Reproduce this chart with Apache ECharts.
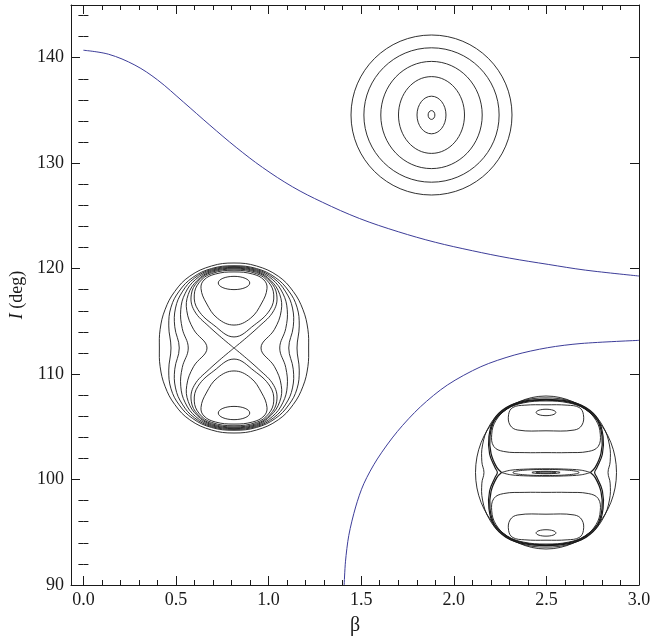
<!DOCTYPE html>
<html>
<head>
<meta charset="utf-8">
<script src="https://cdn.jsdelivr.net/npm/echarts@6/dist/echarts.min.js"></script>
<style>
  html, body { margin: 0; padding: 0; background: #fff; }
  #chart { width: 651px; height: 639px; }
</style>
</head>
<body>
<div id="chart"></div>
<script>
// blue curves
const betaUpper = [0, 0.136, 0.278, 0.40, 0.54, 0.683, 0.825, 0.967, 1.13, 1.29, 1.49, 1.70, 1.90, 2.10, 2.30, 2.51, 2.71, 3.0];
const incUpper = [140.71, 140.33, 139.3, 137.9, 135.8, 133.6, 131.5, 129.6, 127.75, 126.3, 124.76, 123.5, 122.5, 121.7, 121.0, 120.4, 119.86, 119.3];
const betaLower = [1.408, 1.415, 1.433, 1.47, 1.514, 1.587, 1.695, 1.82, 1.965, 2.146, 2.326, 2.506, 2.687, 3.0];
const incLower = [90, 92.2, 94.7, 97.4, 99.6, 101.95, 104.55, 106.9, 108.96, 110.7, 111.8, 112.5, 112.9, 113.2];

// ticks
const xMajorTicks = [0, 0.5, 1, 1.5, 2, 2.5, 3];
const xMinorTicks = [0.1, 0.2, 0.3, 0.4, 0.6, 0.7, 0.8, 0.9, 1.1, 1.2, 1.3, 1.4, 1.6, 1.7, 1.8, 1.9,
  2.1, 2.2, 2.3, 2.4, 2.6, 2.7, 2.8, 2.9];
const yMajorTicks = [90, 100, 110, 120, 130, 140];
const yMinorTicks = [92, 94, 96, 98, 102, 104, 106, 108, 112, 114, 116, 118, 122, 124, 126, 128,
  132, 134, 136, 138, 142, 144];

// inset near beta 1.9: nested ovals [rx, ry], unit = outer radius
const ringRadii = [[1, 1], [0.84, 0.84], [0.63, 0.67], [0.41, 0.48], [0.18, 0.235], [0.042, 0.055]];

// inset near beta 0.8 (quarters: top centre -> left middle; halves: top -> bottom, left side)
const leftOuterQ = [[0, 1], [-0.3, 0.965], [-0.59, 0.845], [-0.79, 0.665], [-0.92, 0.45], [-0.985, 0.22], [-0.995, 0]];
const leftHourglassQ = [
  [[0, 0.968], [-0.3, 0.935], [-0.55, 0.83], [-0.73, 0.67], [-0.84, 0.48], [-0.87, 0.26], [-0.84, 0]],
  [[0, 0.958], [-0.3, 0.924], [-0.53, 0.82], [-0.69, 0.66], [-0.78, 0.47], [-0.79, 0.25], [-0.73, 0]],
  [[0, 0.948], [-0.3, 0.913], [-0.51, 0.808], [-0.65, 0.645], [-0.71, 0.45], [-0.69, 0.23], [-0.61, 0]],
  [[0, 0.938], [-0.3, 0.902], [-0.49, 0.795], [-0.61, 0.63], [-0.63, 0.44], [-0.54, 0.22], [-0.36, 0]]
];
const leftSeparatrixQ = [[0, 0.928], [-0.3, 0.89], [-0.48, 0.785], [-0.57, 0.625], [-0.53, 0.44], [-0.33, 0.25], [0, 0]];
const leftLobeHalves = [
  [[0, 0.915], [-0.3, 0.875], [-0.46, 0.775], [-0.53, 0.625], [-0.48, 0.45], [-0.27, 0.27], [0, 0.13]],
  [[0, 0.895], [-0.25, 0.87], [-0.4, 0.8], [-0.44, 0.7], [-0.37, 0.53], [-0.22, 0.35], [0, 0.27]]
];
const leftCores = [[0, 0.765, 0.21, 0.078], [0, -0.765, 0.21, 0.078]];

// inset near beta 2.5
const rightOuter = [0, 0, 1, 1];
const rightRingQ = [
  [[0, 0.975], [-0.36, 0.93], [-0.63, 0.8], [-0.81, 0.6], [-0.9, 0.36], [-0.91, 0.14], [-0.88, 0]],
  [[0, 0.955], [-0.32, 0.93], [-0.57, 0.845], [-0.74, 0.69], [-0.81, 0.47], [-0.8, 0.24], [-0.72, 0.06], [-0.69, 0]]
];
const rightSeparatrixQ = [[0, 0.945], [-0.32, 0.92], [-0.56, 0.835], [-0.73, 0.68], [-0.795, 0.47], [-0.78, 0.25], [-0.7, 0.07], [-0.63, 0]];
const rightInnerLink = [[-0.63, 0], [-0.5, 0.03], [-0.25, 0.045], [0, 0.048], [0.25, 0.045], [0.5, 0.03], [0.63, 0]];
const rightLobeHalves = [
  [[0, 0.935], [-0.32, 0.91], [-0.55, 0.83], [-0.71, 0.68], [-0.77, 0.5], [-0.74, 0.34], [-0.6, 0.275], [-0.3, 0.26], [0, 0.26]],
  [[0, 0.885], [-0.3, 0.88], [-0.47, 0.85], [-0.53, 0.76], [-0.51, 0.62], [-0.4, 0.555], [0, 0.545]]
];
const rightCores = [[0, 0.785, 0.14, 0.042], [0, -0.79, 0.14, 0.042], [0, 0, 0.47, 0.04], [0, 0, 0.2, 0.016], [0, 0, 0.14, 0.008]];

const INK = '#1a1a1a';
const BLUE = '#3d3d99';
const FONT = '"Liberation Serif", "DejaVu Serif", serif';

// symmetric pieces -> full paths
function loop4(q) {
  const n = q.length;
  const ll = q.slice(0, n - 1).reverse().map(p => [p[0], -p[1]]);
  const lr = q.slice(1).map(p => [-p[0], -p[1]]);
  const ur = q.slice(1, n - 1).reverse().map(p => [-p[0], p[1]]);
  return q.concat(ll, lr, ur);
}
function loopLR(half) {
  const n = half.length;
  return half.concat(half.slice(1, n - 1).reverse().map(p => [-p[0], p[1]]));
}
// left piece reversed, then mirrored piece: one open arc over the top
function arcLR(q) {
  return q.slice().reverse().concat(q.slice(1).map(p => [-p[0], p[1]]));
}
const flipV = pts => pts.map(p => [p[0], -p[1]]);

const ell = (e, w) => ({ kind: 'ellipse', cx: e[0], cy: e[1], rx: e[2], ry: e[3], w: w || 1 });
const loop = (pts, w) => ({ kind: 'loop', pts, w: w || 1 });
const open = (pts, w) => ({ kind: 'open', pts, w: w || 1 });

const inset1 = ringRadii.map(r => ell([0, 0, r[0], r[1]]));

const inset2 = [loop(loop4(leftOuterQ))]
  .concat(leftHourglassQ.map(q => loop(loop4(q))))
  .concat([open(arcLR(leftSeparatrixQ)), open(flipV(arcLR(leftSeparatrixQ)))])
  .concat(leftLobeHalves.map(h => loop(loopLR(h))))
  .concat(leftLobeHalves.map(h => loop(flipV(loopLR(h)))))
  .concat(leftCores.map(c => ell(c)));

const inset3 = [ell(rightOuter)]
  .concat(rightRingQ.map((q, i) => loop(loop4(q), i === 1 ? 1.3 : 1)))
  .concat([open(arcLR(rightSeparatrixQ), 1.4), open(flipV(arcLR(rightSeparatrixQ)), 1.4)])
  .concat([open(rightInnerLink), open(flipV(rightInnerLink))])
  .concat(rightLobeHalves.map(h => loop(loopLR(h))))
  .concat(rightLobeHalves.map(h => loop(flipV(loopLR(h)))))
  .concat(rightCores.map(c => ell(c)));

function contourSeries(shapes, idx) {
  return {
    type: 'custom',
    xAxisIndex: idx, yAxisIndex: idx,
    silent: true,
    animation: false,
    data: shapes.map((s, i) => [0, 0, i]),
    encode: { x: 0, y: 1 },
    renderItem: function (params, api) {
      const s = shapes[api.value(2)];
      const style = { fill: 'none', stroke: INK, lineWidth: 0.9 * s.w };
      if (s.kind === 'ellipse') {
        const c = api.coord([s.cx, s.cy]);
        const r = api.size([s.rx, s.ry]);
        return { type: 'ellipse', shape: { cx: c[0], cy: c[1], rx: r[0], ry: r[1] }, style };
      }
      const pts = s.pts.map(p => api.coord(p));
      return {
        type: s.kind === 'loop' ? 'polygon' : 'polyline',
        shape: { points: pts, smooth: 0.4 },
        style
      };
    }
  };
}

const box = { left: 71, right: 12, top: 5, bottom: 54, outerBoundsMode: 'none', containLabel: false };
const xr = { min: -0.067, max: 3 };
const yr = { min: 90, max: 145 };
const unit = { min: -1, max: 1 };

function axis(gridIndex, position, range, extra) {
  return Object.assign({
    type: 'value', gridIndex, position, min: range.min, max: range.max,
    splitLine: { show: false },
    axisLine: { show: false },
    axisTick: { show: false },
    axisLabel: { show: false }
  }, extra);
}
const lineOn = { show: true, onZero: false, lineStyle: { color: INK, width: 1 } };
const ticks = (vals, len) => ({ show: true, inside: true, length: len, customValues: vals, lineStyle: { color: INK, width: 1 } });
const insetGrid = (l, t, w, h) => ({ left: l, top: t, width: w, height: h, outerBoundsMode: 'none', containLabel: false });

const chart = echarts.init(document.getElementById('chart'), null, { renderer: 'canvas' });

chart.setOption({
  animation: false,
  backgroundColor: '#fff',
  grid: [
    Object.assign({}, box),
    Object.assign({}, box),
    insetGrid(351, 35, 161, 160),
    insetGrid(159, 263, 150, 170),
    insetGrid(475.5, 396, 141, 153)
  ],
  xAxis: [
    axis(0, 'bottom', xr, {
      axisLine: lineOn,
      axisTick: ticks(xMajorTicks, 9),
      axisLabel: {
        show: true, customValues: xMajorTicks, margin: 6,
        formatter: v => v.toFixed(1),
        fontFamily: FONT, fontSize: 18, color: INK
      },
      name: 'β', nameLocation: 'middle', nameGap: 31,
      nameTextStyle: { fontFamily: FONT, fontSize: 20, color: INK }
    }),
    axis(0, 'top', xr, { axisLine: lineOn, axisTick: ticks(xMajorTicks, 9) }),
    axis(1, 'bottom', xr, { axisTick: ticks(xMinorTicks, 5) }),
    axis(1, 'top', xr, { axisTick: ticks(xMinorTicks, 5) }),
    axis(2, 'bottom', unit, { show: false }),
    axis(3, 'bottom', unit, { show: false }),
    axis(4, 'bottom', unit, { show: false })
  ],
  yAxis: [
    axis(0, 'left', yr, {
      axisLine: lineOn,
      axisTick: ticks(yMajorTicks, 9),
      axisLabel: {
        show: true, customValues: yMajorTicks, margin: 7,
        fontFamily: FONT, fontSize: 18, color: INK
      },
      name: '{i|I} (deg)', nameLocation: 'middle', nameGap: 36,
      nameTextStyle: {
        fontFamily: FONT, fontSize: 18, color: INK,
        rich: { i: { fontFamily: FONT, fontSize: 18, fontStyle: 'italic', color: INK } }
      }
    }),
    axis(0, 'right', yr, { axisLine: lineOn, axisTick: ticks(yMajorTicks, 9) }),
    axis(1, 'left', yr, { axisTick: ticks(yMinorTicks, 5) }),
    axis(1, 'right', yr, { axisTick: ticks(yMinorTicks, 5) }),
    axis(2, 'left', unit, { show: false }),
    axis(3, 'left', unit, { show: false }),
    axis(4, 'left', unit, { show: false })
  ],
  series: [
    {
      type: 'line', xAxisIndex: 0, yAxisIndex: 0,
      data: betaUpper.map((b, i) => [b, incUpper[i]]),
      smooth: 0.35, showSymbol: false, silent: true,
      lineStyle: { color: BLUE, width: 1 }
    },
    {
      type: 'line', xAxisIndex: 0, yAxisIndex: 0,
      data: betaLower.map((b, i) => [b, incLower[i]]),
      smooth: 0.3, showSymbol: false, silent: true,
      lineStyle: { color: BLUE, width: 1 }
    },
    contourSeries(inset1, 4),
    contourSeries(inset2, 5),
    contourSeries(inset3, 6)
  ]
});
</script>
</body>
</html>
